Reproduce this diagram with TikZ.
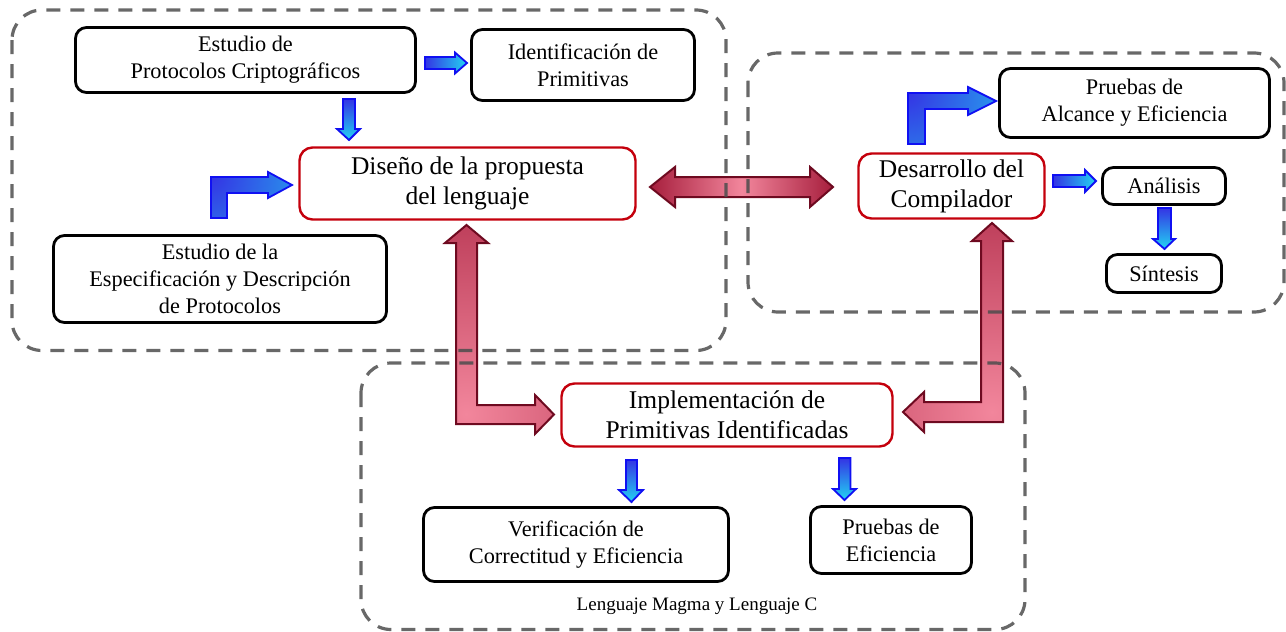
\documentclass[tikz,border=0pt]{standalone}
\usepackage{fontspec}
\setmainfont{Liberation Serif}
\definecolor{bblue}{HTML}{3434E4}
\definecolor{bcyan}{HTML}{22D4F2}
\definecolor{bline}{HTML}{1010F2}
\definecolor{rdark}{HTML}{990C2C}
\definecolor{rpink}{HTML}{F2869C}
\definecolor{rline}{HTML}{6E0A20}
\definecolor{rborder}{HTML}{C4000C}
\definecolor{dgray}{HTML}{4D4D4D}
\tikzset{
  nbox/.style={draw=black, line width=2.8pt, rounded corners=11pt, fill=white, align=center,
    font=\fontsize{22.3}{27}\selectfont, inner sep=0pt},
  rbox/.style={draw=rborder, line width=2.4pt, rounded corners=13pt, fill=white, align=center,
    font=\fontsize{25.5}{30}\selectfont, inner sep=0pt},
  group/.style={draw=dgray, draw opacity=0.85, line width=3.2pt, dash pattern=on 14pt off 10pt, rounded corners=30pt},
  barrow/.style={draw=bline, line width=1.8pt, line join=miter},
  bright/.style={barrow, left color=bblue, right color=bcyan},
  bdown/.style={barrow, top color=bblue, bottom color=bcyan},
  rarrow/.style={draw=rline, line width=2pt, line join=miter},
}
\begin{document}
\begin{tikzpicture}[x=1pt,y=-1pt]
\useasboundingbox (0,0) rectangle (1286,632);

% ---- nodes ----
\node[nbox, minimum width=340, minimum height=65] (est) at (245.5,60) {Estudio de\\Protocolos Criptográficos};
\node[nbox, minimum width=223, minimum height=71] (ide) at (583,65) {Identificación de\\Primitivas};
\node[rbox, minimum width=336, minimum height=72] (dis) at (467.5,183.5) {Diseño de la propuesta\\del lenguaje};
\node[nbox, minimum width=333, minimum height=87] (esp) at (220,279) {Estudio de la\\Especificación y Descripción\\de Protocolos};
\node[rbox, minimum width=186, minimum height=65] (des) at (951.5,186) {Desarrollo del\\Compilador};
\node[nbox, minimum width=270, minimum height=69] (pru) at (1134.5,103) {Pruebas de\\Alcance y Eficiencia};
\node[nbox, minimum width=123, minimum height=37] (ana) at (1164,186) {Análisis};
\node[nbox, minimum width=115, minimum height=38] (sin) at (1164,273.5) {Síntesis};
\node[rbox, minimum width=331, minimum height=63] (imp) at (727,415) {Implementación de\\Primitivas Identificadas};
\node[nbox, minimum width=305, minimum height=74] (ver) at (576,544.5) {Verificación de\\Correctitud y Eficiencia};
\node[nbox, minimum width=161, minimum height=67] (pef) at (891,540) {Pruebas de\\Eficiencia};
\node[font=\fontsize{19}{23}\selectfont, inner sep=0pt] (lab) at (697,606) {Lenguaje Magma y Lenguaje C};

% ---- red arrows ----
\draw[rarrow, left color=rdark!85!rpink, right color=rdark!85!rpink, middle color=rpink]
  (650,187) -- (675,167) -- (675,177) -- (810,177) -- (810,167) -- (833,187)
  -- (810,207) -- (810,197) -- (675,197) -- (675,207) -- cycle;
\draw[rarrow, path picture={\shade[inner color=rpink, outer color=rdark] (466,414) circle[radius=330pt];}]
  (466.5,225) -- (488,243) -- (477,243) -- (477,405) -- (535,405) -- (535,395)
  -- (554,414.5) -- (535,434) -- (535,424) -- (456,424) -- (456,243) -- (445,243) -- cycle;
\draw[rarrow, path picture={\shade[inner color=rpink, outer color=rdark] (992,412) circle[radius=330pt];}]
  (992,223) -- (1012,241) -- (1003,241) -- (1003,422) -- (924,422) -- (924,432)
  -- (903,412) -- (924,392) -- (924,402) -- (981,402) -- (981,241) -- (972,241) -- cycle;

% ---- blue arrows ----
\draw[bright] (425,57) -- (455,57) -- (455,52.5) -- (467,63) -- (455,73.5) -- (455,69) -- (425,69) -- cycle;
\draw[bdown] (343,99) -- (355,99) -- (355,129) -- (360,129) -- (349,140) -- (337,129) -- (343,129) -- cycle;
\draw[barrow, path picture={\shade[inner color=bblue, outer color=bcyan] (211,177) circle[radius=150pt];}]
  (211,218) -- (211,177) -- (268,177) -- (268,172) -- (292,185) -- (268,198) -- (268,193) -- (227,193) -- (227,218) -- cycle;
\draw[barrow, path picture={\shade[inner color=bblue, outer color=bcyan] (908,93) circle[radius=150pt];}]
  (908,144) -- (908,93) -- (968,93) -- (968,87) -- (996,101) -- (968,115) -- (968,109) -- (925,109) -- (925,144) -- cycle;
\draw[bright] (1053,175) -- (1085,175) -- (1085,170) -- (1096,181) -- (1085,192) -- (1085,187) -- (1053,187) -- cycle;
\draw[bdown] (1158,208) -- (1171,208) -- (1171,239) -- (1175,239) -- (1164.5,249) -- (1153,239) -- (1158,239) -- cycle;
\draw[bdown] (626,460) -- (637,460) -- (637,490) -- (643,490) -- (631.5,502) -- (619,490) -- (626,490) -- cycle;
\draw[bdown] (839,458) -- (850.5,458) -- (850.5,489) -- (856,489) -- (844.5,500) -- (833,489) -- (839,489) -- cycle;

% ---- dashed groups ----
\draw[group] (12,10) rectangle (726,350.5);
\draw[group] (748,53) rectangle (1284,312);
\draw[group] (361,363) rectangle (1025,629.5);
\end{tikzpicture}
\end{document}
